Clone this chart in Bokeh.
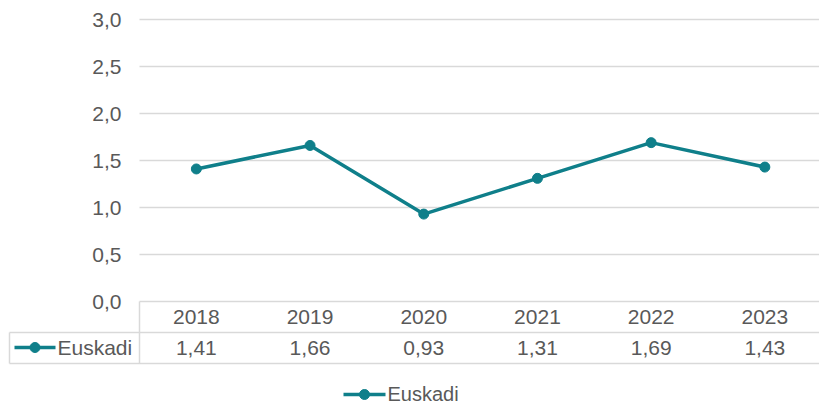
from bokeh.plotting import figure
from bokeh.embed import file_html
from bokeh.resources import INLINE
from bokeh.core.properties import value
from bokeh.models import ColumnDataSource, Range1d

# ---- data ----
years = ["2018", "2019", "2020", "2021", "2022", "2023"]
euskadi = [1.41, 1.66, 0.93, 1.31, 1.69, 1.43]
series_name = "Euskadi"
y_ticks = [0.0, 0.5, 1.0, 1.5, 2.0, 2.5, 3.0]

COLOR = "#0F7F8A"
TXT = "#595959"
GRID = "#D9D9D9"
FONT = value("Liberation Sans")
FS = value("21px")

# ---- pixel <-> data helpers (picture pixel coordinates) ----
OFF = 0
W, H = 819, 404
X0PX, XSTEP = 139.0, 113.7   # left edge of category area, px per category
Y0PX, YSTEP = 301.0, 94.0    # y pixel of value 0, px per unit


def sx(px):
    return -0.5 + (px - X0PX) / XSTEP


def sy(py):
    return (Y0PX - py) / YSTEP


p = figure(width=W, height=H, output_backend="svg", toolbar_location=None,
           x_range=Range1d(sx(OFF), sx(OFF + W)), y_range=Range1d(sy(OFF + H), sy(OFF)),
           min_border=0, outline_line_color=None)
p.axis.visible = False
p.grid.visible = False
p.background_fill_color = "white"
p.border_fill_color = "white"

xs = list(range(len(years)))
x_left = sx(X0PX)
x_right = sx(OFF + W + 5)

# gridlines (0.5 .. 3.0)
grid_vals = [t for t in y_ticks if t > 0]
p.segment(x0=[x_left] * len(grid_vals), y0=grid_vals,
          x1=[x_right] * len(grid_vals), y1=grid_vals,
          line_color=GRID, line_width=1.5)

# y tick labels
p.text(x=[sx(121)] * len(y_ticks), y=y_ticks,
       text=[f"{t:.1f}".replace(".", ",") for t in y_ticks],
       text_align="right", text_baseline="middle",
       text_font=FONT, text_font_size=FS, text_color=TXT)

# data table lines
row_top, row_mid, row_bot = 0.0, sy(332), sy(363)
p.segment(x0=[x_left, sx(9), sx(9), x_left, sx(9)],
          y0=[row_top, row_mid, row_bot, row_top, row_mid],
          x1=[x_right, x_right, x_right, x_left, sx(9)],
          y1=[row_top, row_mid, row_bot, row_bot, row_bot],
          line_color=GRID, line_width=1.5)

# year row and value row
p.text(x=xs, y=[sy(316)] * len(xs), text=years,
       text_align="center", text_baseline="middle",
       text_font=FONT, text_font_size=FS, text_color=TXT)
p.text(x=xs, y=[sy(347)] * len(xs),
       text=[f"{v:.2f}".replace(".", ",") for v in euskadi],
       text_align="center", text_baseline="middle",
       text_font=FONT, text_font_size=FS, text_color=TXT)

# legend key inside the table
ly = sy(347)
p.line(x=[sx(14), sx(55)], y=[ly, ly], line_color=COLOR, line_width=3.5)
p.scatter(x=[sx(34.5)], y=[ly], size=10, marker="circle",
          fill_color=COLOR, line_color=COLOR)
p.text(x=[sx(57)], y=[ly], text=[series_name], text_align="left",
       text_baseline="middle", text_font=FONT, text_font_size=FS, text_color=TXT)

# the series
src = ColumnDataSource(dict(x=xs, y=euskadi))
p.line("x", "y", source=src, line_color=COLOR, line_width=3.5)
p.scatter("x", "y", source=src, size=10, marker="circle",
          fill_color=COLOR, line_color=COLOR)

# bottom legend
by = sy(394)
p.line(x=[sx(343), sx(385)], y=[by, by], line_color=COLOR, line_width=3.5)
p.scatter(x=[sx(364)], y=[by], size=10, marker="circle",
          fill_color=COLOR, line_color=COLOR)
p.text(x=[sx(387)], y=[sy(393.5)], text=[series_name], text_align="left",
       text_baseline="middle", text_font=FONT, text_font_size=value("20px"),
       text_color=TXT)

open("out.html", "w").write(file_html(p, INLINE))
